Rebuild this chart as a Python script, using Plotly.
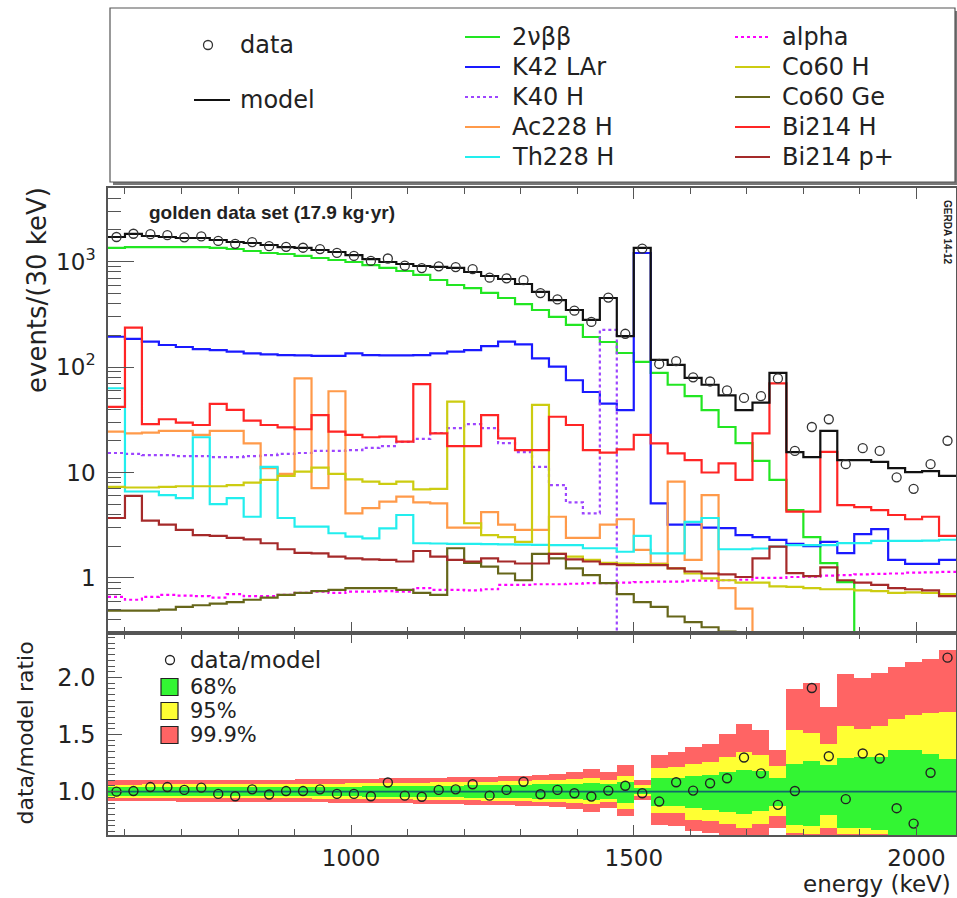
import plotly.graph_objects as go

# ---------------- binning (30 keV bins, 570-2070 keV) ----------------
bin_edges = list(range(570, 2071, 30))
bin_centers = [e + 15 for e in bin_edges[:-1]]

# ---------------- main spectrum (events / 30 keV) ----------------
data_counts = [1714, 1841, 1823, 1783, 1703, 1737, 1574, 1476, 1533, 1403,
               1384, 1356, 1317, 1211, 1133, 1017, 1072, 917, 869, 904,
               889, 850, 705, 695, 667, 504, 438, 343, 268, 456,
               207, 1330, 107, 114, 80, 73, 60, 51, 53, 78,
               16, 27, 32, 12, 17, 16, 9, 7, 12, 20]
model = [1714, 1832, 1753, 1714, 1678, 1678, 1606, 1537, 1503, 1439,
         1377, 1349, 1291, 1236, 1156, 1059, 993, 950, 910, 891,
         872, 798, 731, 685, 614, 516, 432, 348, 280, 452,
         197, 1349, 117, 105, 79, 68, 54, 39, 46, 88,
         15.6, 14.0, 24.8, 13.1, 13.1, 12.6, 11.0, 10.1, 10.3, 9.3]
two_nu_bb = [1349, 1377, 1377, 1377, 1377, 1377, 1349, 1319, 1262, 1208,
             1183, 1133, 1084, 1037, 993, 929, 872, 816, 748, 670,
             601, 562, 505, 452, 396, 348, 299, 251, 193, 173,
             136, 112, 88, 68, 53, 39, 27, 19, 12.9, 8.5,
             4.4, 2.44, 1.38, 0.91, 0, 0, 0, 0, 0, 0]
k42_lar = [194, 185, 174, 162, 155, 148, 145, 140, 135, 132,
           130, 129, 128, 128, 135, 130, 129, 129, 130, 135,
           140, 145, 158, 174, 164, 121, 101, 75, 58, 45,
           39, 1208, 5.1, 3.2, 3.2, 3.0, 2.96, 2.55, 2.44, 2.29,
           2.10, 2.0, 2.2, 1.72, 2.6, 2.9, 1.48, 1.36, 1.36, 1.48]
k40_h = [15.3, 15.0, 14.6, 14.6, 14.3, 14.3, 14.0, 14.0, 14.3, 14.6,
         15.0, 15.3, 16.0, 16.0, 16.3, 17.1, 17.8, 19.5, 20.8, 23.7,
         26.4, 28.8, 26.4, 19.0, 15.6, 11.3, 7.6, 5.2, 4.1, 225,
         0, 0, 0, 0, 0, 0, 0, 0, 0, 0,
         0, 0, 0, 0, 0, 0, 0, 0, 0, 0]
ac228_h = [24.4, 23.5, 23.9, 24.8, 24.8, 22.7, 24.8, 24.8, 18.9, 11.0,
           9.7, 78, 7.1, 59, 4.1, 4.6, 5.3, 5.9, 5.2, 5.1,
           3.0, 3.0, 4.2, 3.2, 2.85, 2.85, 3.8, 2.4, 2.4, 3.2,
           3.6, 1.84, 1.37, 8.2, 1.48, 6.1, 0.80, 0.51, 0, 0,
           0, 0, 0, 0, 0, 0, 0, 0, 0, 0]
th228_h = [63, 6.6, 6.6, 6.1, 5.7, 21.6, 5.0, 5.7, 3.8, 11.3,
           3.7, 3.06, 3.06, 2.65, 2.46, 2.37, 2.95, 3.95, 2.13, 2.12,
           2.10, 2.10, 2.09, 2.08, 2.07, 2.06, 2.05, 2.05, 1.91, 1.91,
           1.77, 2.5, 1.71, 1.71, 3.4, 3.7, 1.87, 1.87, 1.9, 1.98,
           2.05, 2.05, 2.05, 2.14, 2.14, 2.24, 2.24, 2.24, 2.26, 2.3]
alpha = [0.66, 0.62, 0.66, 0.69, 0.68, 0.67, 0.65, 0.70, 0.67, 0.67,
         0.69, 0.72, 0.74, 0.72, 0.74, 0.74, 0.75, 0.74, 0.80, 0.77,
         0.77, 0.76, 0.78, 0.86, 0.86, 0.87, 0.87, 0.88, 0.89, 0.89,
         0.90, 0.91, 0.92, 0.92, 0.94, 0.94, 0.95, 0.96, 1.00, 1.00,
         1.02, 1.03, 1.05, 1.06, 1.08, 1.09, 1.10, 1.12, 1.13, 1.14]
co60_h = [7.3, 7.2, 7.2, 7.3, 7.4, 7.4, 7.4, 7.6, 8.0, 8.5,
          9.3, 10.2, 11.1, 9.7, 8.6, 8.2, 7.8, 8.2, 6.9, 7.0,
          47, 3.3, 2.55, 2.44, 2.2, 43.7, 1.69, 1.59, 1.48, 1.39,
          1.37, 1.35, 1.35, 1.23, 1.10, 0.99, 0.95, 0.90, 0.90, 0.83,
          0.82, 0.80, 0.78, 0.78, 0.76, 0.75, 0.72, 0.73, 0.72, 0.70]
co60_ge = [0.49, 0.49, 0.49, 0.50, 0.53, 0.55, 0.57, 0.59, 0.62, 0.65,
           0.69, 0.72, 0.75, 0.77, 0.80, 0.80, 0.80, 0.77, 0.72, 0.69,
           1.91, 1.39, 1.28, 1.10, 0.95, 1.69, 1.53, 1.23, 1.06, 0.89,
           0.70, 0.59, 0.53, 0.43, 0.38, 0.34, 0.31, 0.30, 0, 0,
           0, 0, 0, 0, 0, 0, 0, 0, 0, 0]
bi214_h = [42, 237, 28.8, 32, 29.7, 28.2, 44.7, 39.2, 31, 28.2,
           26.8, 25.7, 35, 24.4, 22.7, 21.6, 21.9, 19.6, 69, 23.5,
           17.8, 17.8, 35, 21.1, 16.3, 16.3, 33.8, 28.2, 16.3, 15.4,
           16.6, 22.7, 18.9, 15.2, 13.1, 10.0, 12.2, 8.5, 23.5, 70,
           4.25, 4.25, 15.7, 4.9, 4.7, 4.4, 3.95, 3.6, 3.8, 2.5]
bi214_pplus = [3.7, 6.0, 3.5, 3.2, 2.85, 2.55, 2.5, 2.4, 2.32, 2.13,
               1.87, 1.73, 1.71, 1.59, 1.53, 1.50, 1.48, 1.43, 1.80, 1.59,
               1.48, 1.43, 1.53, 1.43, 1.37, 1.37, 1.69, 1.50, 1.43, 1.35,
               1.32, 1.32, 1.32, 1.23, 1.15, 1.10, 1.08, 1.02, 1.53, 1.98,
               1.11, 1.04, 1.26, 0.95, 0.90, 0.86, 0.80, 0.78, 0.76, 0.67]

# ---------------- ratio panel ----------------
ratio = [1.00, 1.005, 1.04, 1.04, 1.015, 1.035, 0.98, 0.96, 1.02, 0.975,
         1.005, 1.005, 1.02, 0.98, 0.98, 0.96, 1.08, 0.965, 0.955, 1.015,
         1.02, 1.065, 0.965, 1.015, 1.087, 0.977, 1.015, 0.986, 0.957, 1.009,
         1.052, 0.986, 0.913, 1.082, 1.009, 1.073, 1.117, 1.299, 1.160, 0.884,
         1.006, 1.908, 1.31, 0.934, 1.334, 1.29, 0.855, 0.72, 1.165, 2.174]
band68_lo = [.965, .965, .965, .965, .964, .964, .964, .963, .963, .962,
             .961, .961, .960, .959, .958, .956, .955, .953, .952, .951,
             .950, .948, .946, .944, .942, .939, .936, .932, .926, .935,
             .904, .975, .875, .870, .855, .841, .820, .803, .826, .870,
             .710, .696, .797, .680, .680, .667, .600, .600, .600, .600]
band68_hi = [1.038, 1.038, 1.038, 1.039, 1.039, 1.039, 1.040, 1.040, 1.041, 1.041,
             1.042, 1.042, 1.043, 1.044, 1.045, 1.047, 1.048, 1.050, 1.051, 1.052,
             1.053, 1.055, 1.057, 1.059, 1.061, 1.064, 1.067, 1.071, 1.078, 1.068,
             1.087, 1.030, 1.116, 1.120, 1.139, 1.145, 1.174, 1.188, 1.180, 1.122,
             1.246, 1.267, 1.232, 1.296, 1.304, 1.304, 1.362, 1.362, 1.333, 1.284]
band95_lo = [.946, .946, .946, .945, .945, .945, .944, .944, .943, .942,
             .941, .940, .939, .938, .937, .935, .934, .932, .930, .929,
             .927, .925, .922, .920, .917, .913, .909, .903, .895, .905,
             .846, .958, .817, .810, .754, .739, .716, .681, .716, .783,
             .635, .630, .681, .630, .630, .630, .500, .500, .500, .500]
band95_hi = [1.062, 1.062, 1.063, 1.063, 1.064, 1.064, 1.065, 1.066, 1.066, 1.067,
             1.068, 1.069, 1.070, 1.071, 1.072, 1.074, 1.076, 1.078, 1.080, 1.081,
             1.083, 1.085, 1.088, 1.091, 1.094, 1.098, 1.103, 1.110, 1.120, 1.105,
             1.139, 1.062, 1.203, 1.215, 1.246, 1.261, 1.304, 1.348, 1.319, 1.223,
             1.536, 1.516, 1.420, 1.574, 1.545, 1.574, 1.638, 1.672, 1.690, 1.700]
band999_lo = [.915, .915, .914, .914, .913, .913, .912, .911, .910, .909,
              .907, .906, .905, .904, .902, .900, .899, .897, .895, .893,
              .890, .887, .884, .880, .876, .870, .863, .852, .820, .855,
              .788, .930, .710, .700, .652, .640, .610, .590, .600, .681,
              .450, .450, .560, .450, .450, .450, .450, .450, .450, .450]
band999_hi = [1.098, 1.098, 1.099, 1.099, 1.100, 1.100, 1.101, 1.102, 1.103, 1.105,
              1.106, 1.107, 1.108, 1.110, 1.112, 1.114, 1.116, 1.118, 1.120, 1.122,
              1.125, 1.128, 1.132, 1.136, 1.141, 1.148, 1.157, 1.170, 1.200, 1.168,
              1.232, 1.100, 1.320, 1.345, 1.391, 1.420, 1.507, 1.594, 1.536, 1.362,
              1.899, 1.951, 1.739, 2.029, 2.000, 2.043, 2.096, 2.136, 2.165, 2.240]

x_tick_vals = [1000, 1500, 2000]
main_tick_vals = [1, 10, 100, 1000]
main_tick_text = ["1", "10", "10<sup>2</sup>", "10<sup>3</sup>"]
ratio_tick_vals = [1.0, 1.5, 2.0]
ratio_tick_text = ["1.0", "1.5", "2.0"]

# ---------------- styling / layout ----------------
W, H = 957, 898
ML, MR, MT, MB = 108, 1, 0, 63
PW, PH = W - ML - MR, H - MT - MB
Y_MIN, Y_MAX = 0.3, 5000.0
FONT = "DejaVu Sans"
TXT = "#222222"
FRAME = "#555555"


def px_x(px):
    return (px - ML) / PW


def px_y(py):
    return (PH - py) / PH


def step_y(vals):
    v = [max(float(a), Y_MIN * 1.012) for a in vals]
    return v + [v[-1]]


components = [
    ("2νββ", two_nu_bb, "#22e622", "solid"),
    ("K42 LAr", k42_lar, "#1a1aff", "solid"),
    ("K40 H", k40_h, "#9d45ff", "dot"),
    ("Ac228 H", ac228_h, "#ff9a4a", "solid"),
    ("Th228 H", th228_h, "#22eeee", "solid"),
    ("alpha", alpha, "#ff00ff", "dot"),
    ("Co60 H", co60_h, "#cccc11", "solid"),
    ("Co60 Ge", co60_ge, "#66661a", "solid"),
    ("Bi214 H", bi214_h, "#ff2525", "solid"),
    ("Bi214 p+", bi214_pplus, "#a52a2a", "solid"),
]

fig = go.Figure()

for name, vals, col, dash in components:
    fig.add_trace(go.Scatter(
        x=bin_edges, y=step_y(vals), mode="lines", line_shape="hv",
        line=dict(color=col, width=2.2, dash=dash), name=name,
        xaxis="x", yaxis="y", showlegend=False, hoverinfo="skip"))

fig.add_trace(go.Scatter(
    x=bin_edges, y=step_y(model), mode="lines", line_shape="hv",
    line=dict(color="#111111", width=2.2), name="model",
    xaxis="x", yaxis="y", showlegend=False))

fig.add_trace(go.Scatter(
    x=bin_centers, y=data_counts, mode="markers",
    marker=dict(symbol="circle-open", size=9, color="#333333",
                line=dict(width=1.3, color="#333333")),
    name="data", xaxis="x", yaxis="y", showlegend=False))

# ratio bands
for lo, hi, col in [(band999_lo, band999_hi, "#ff6464"),
                    (band95_lo, band95_hi, "#ffff33"),
                    (band68_lo, band68_hi, "#33f533")]:
    fig.add_trace(go.Bar(
        x=bin_centers, y=[h - l for l, h in zip(lo, hi)], base=lo,
        width=30, marker=dict(color=col, line=dict(width=0)),
        xaxis="x2", yaxis="y2", showlegend=False, hoverinfo="skip"))

fig.add_trace(go.Scatter(
    x=[bin_edges[0], bin_edges[-1]], y=[1.0, 1.0], mode="lines",
    line=dict(color="#106a6a", width=1.6),
    xaxis="x2", yaxis="y2", showlegend=False, hoverinfo="skip"))

fig.add_trace(go.Scatter(
    x=bin_centers, y=ratio, mode="markers",
    marker=dict(symbol="circle-open", size=9, color="#222222",
                line=dict(width=1.4, color="#222222")),
    xaxis="x2", yaxis="y2", showlegend=False))

# minor log ticks
minor_log = []
for dec in [0.1, 1, 10, 100, 1000]:
    for m in range(2, 10):
        v = m * dec
        if Y_MIN <= v <= Y_MAX:
            minor_log.append(v)

main_dom = [px_y(633), px_y(188)]
ratio_dom = [0.0, px_y(633)]

axis_common = dict(showline=True, linecolor=FRAME, linewidth=1.5,
                   showgrid=False, zeroline=False)

fig.update_layout(
    width=W, height=H,
    margin=dict(l=ML, r=MR, t=MT, b=MB),
    paper_bgcolor="white", plot_bgcolor="white",
    barmode="overlay", bargap=0,
    font=dict(family=FONT, color=TXT),
    xaxis=dict(domain=[0, 1], anchor="y", range=[bin_edges[0], bin_edges[-1]],
               matches="x2", showticklabels=False,
               tickmode="array", tickvals=x_tick_vals,
               ticks="inside", ticklen=11, tickcolor=FRAME, mirror="allticks",
               minor=dict(dtick=100, tick0=0, ticklen=6, ticks="inside",
                          tickcolor=FRAME),
               **axis_common),
    yaxis=dict(domain=main_dom, anchor="x", type="log",
               range=[-0.5228787, 3.69897],
               tickmode="array", tickvals=main_tick_vals, ticktext=main_tick_text,
               ticks="inside", ticklen=26, tickcolor=FRAME, mirror=True,
               ticklabelstandoff=6,
               tickfont=dict(size=23, family=FONT, color=TXT),
               minor=dict(tickmode="array", tickvals=minor_log, ticklen=13,
                          ticks="inside", tickcolor=FRAME),
               **axis_common),
    xaxis2=dict(domain=[0, 1], anchor="y2", range=[bin_edges[0], bin_edges[-1]],
                tickmode="array", tickvals=x_tick_vals,
                ticks="inside", ticklen=10, tickcolor=FRAME, mirror="allticks",
                ticklabelstandoff=2,
                tickfont=dict(size=23, family=FONT, color=TXT),
                minor=dict(dtick=100, tick0=0, ticklen=6, ticks="inside",
                           tickcolor=FRAME),
                **axis_common),
    yaxis2=dict(domain=ratio_dom, anchor="x2", range=[0.62, 2.39],
                tickmode="array", tickvals=ratio_tick_vals, ticktext=ratio_tick_text,
                ticks="inside", ticklen=14, tickcolor=FRAME, mirror=True,
                ticklabelstandoff=6,
                tickfont=dict(size=24, family=FONT, color=TXT),
                minor=dict(dtick=0.05, tick0=0, ticklen=7, ticks="inside",
                           tickcolor=FRAME),
                **axis_common),
)

shapes = []
annotations = []

# legend box
shapes.append(dict(type="rect", xref="paper", yref="paper",
                   x0=px_x(113), x1=px_x(958), y0=px_y(185), y1=px_y(11),
                   line=dict(width=0), fillcolor="#777777", layer="above"))
shapes.append(dict(type="rect", xref="paper", yref="paper",
                   x0=px_x(110), x1=px_x(955), y0=px_y(182), y1=px_y(8),
                   line=dict(color=FRAME, width=1.2), fillcolor="white",
                   layer="above"))

LEG_FS = 24


def leg_text(px, py, text, size=LEG_FS):
    annotations.append(dict(xref="paper", yref="paper", x=px_x(px), y=px_y(py),
                            text=text, showarrow=False, xanchor="left",
                            yanchor="middle",
                            font=dict(size=size, family=FONT, color=TXT)))


# data / model entries
shapes.append(dict(type="circle", xref="paper", yref="paper",
                   x0=px_x(203.5), x1=px_x(212.5), y0=px_y(49.5), y1=px_y(40.5),
                   line=dict(color="#333333", width=1.3), layer="above"))
leg_text(238, 45, "data")
shapes.append(dict(type="line", xref="paper", yref="paper",
                   x0=px_x(194), x1=px_x(230), y0=px_y(100), y1=px_y(100),
                   line=dict(color="#111111", width=2.2), layer="above"))
leg_text(238, 100, "model")

rows = [37, 67, 97, 127, 157]
for k, (name, vals, col, dash) in enumerate(components):
    col_idx, r = divmod(k, 5)
    lx0 = 465 if col_idx == 0 else 735
    shapes.append(dict(type="line", xref="paper", yref="paper",
                       x0=px_x(lx0), x1=px_x(lx0 + 35),
                       y0=px_y(rows[r]), y1=px_y(rows[r]),
                       line=dict(color=col, width=2.2, dash=dash), layer="above"))
    leg_text(lx0 + 45, rows[r], name)

# in-plot texts
annotations.append(dict(xref="paper", yref="paper", x=px_x(147), y=px_y(213),
                        text="<b>golden data set (17.9 kg·yr)</b>", showarrow=False,
                        xanchor="left", yanchor="middle",
                        font=dict(size=19, family="Liberation Sans", color=TXT)))
annotations.append(dict(xref="paper", yref="paper", x=px_x(948), y=px_y(232),
                        text="<b>GERDA 14-12</b>", showarrow=False, textangle=90,
                        xanchor="center", yanchor="middle",
                        font=dict(size=10, family="Liberation Sans", color=TXT)))

# ratio legend
shapes.append(dict(type="circle", xref="paper", yref="paper",
                   x0=px_x(165.5), x1=px_x(174.5), y0=px_y(664.5), y1=px_y(655.5),
                   line=dict(color="#222222", width=1.3), layer="above"))
leg_text(188, 660, "data/model", 23)
for py, col, lab in [(687, "#33f533", "68%"), (711, "#ffff33", "95%"),
                     (735, "#ff6464", "99.9%")]:
    shapes.append(dict(type="rect", xref="paper", yref="paper",
                       x0=px_x(161), x1=px_x(178), y0=px_y(py + 8.5), y1=px_y(py - 8.5),
                       fillcolor=col, line=dict(color="#222222", width=1.2),
                       layer="above"))
    leg_text(188, py, lab, 21)

# axis titles
annotations.append(dict(xref="paper", yref="paper", x=px_x(37), y=px_y(185),
                        text="events/(30 keV)", showarrow=False, textangle=-90,
                        xanchor="center", yanchor="top",
                        font=dict(size=26, family=FONT, color=TXT)))
annotations.append(dict(xref="paper", yref="paper", x=px_x(25), y=px_y(640),
                        text="data/model ratio", showarrow=False, textangle=-90,
                        xanchor="center", yanchor="top",
                        font=dict(size=22, family=FONT, color=TXT)))
annotations.append(dict(xref="paper", yref="paper", x=px_x(953), y=px_y(884),
                        text="energy (keV)", showarrow=False,
                        xanchor="right", yanchor="middle",
                        font=dict(size=23, family=FONT, color=TXT)))

fig.update_layout(shapes=shapes, annotations=annotations)

fig.write_html("out.html")
